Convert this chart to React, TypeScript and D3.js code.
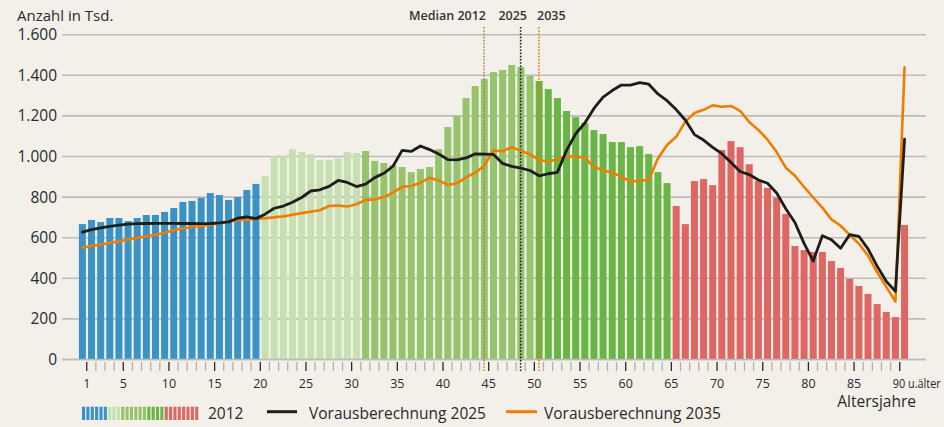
import React from "react";
import * as d3 from "d3";

// ---- data (Anzahl in Tsd.) ----
const ages: number[] = d3.range(0, 91);

const bars2012: number[] = [
  667, 687, 677, 697, 697, 682, 697, 712, 712, 727, 746, 776, 781, 796, 820, 810, 786, 800, 835, 865,
  904, 1002, 1002, 1036, 1022, 1012, 983, 983, 992, 1022, 1017,
  1027, 978, 968, 958, 948, 923, 938, 948, 1036, 1145, 1199, 1288, 1347, 1382, 1416, 1426, 1451, 1441, 1397,
  1372, 1332, 1288, 1224, 1194, 1165, 1130, 1111, 1071, 1071, 1046, 1051, 1012, 923, 869,
  756, 667, 879, 889, 859, 1032, 1076, 1046, 962, 879, 845, 796, 717, 559, 539, 530, 530, 485, 451, 397,
  362, 323, 273, 234, 209, 663,
];

const proj2025: number[] = [
  627, 640, 648, 656, 662, 667, 669, 670, 671, 671, 671, 670, 670, 669, 670, 673, 678, 696, 702, 694,
  716, 745, 756, 775, 798, 830, 836, 853, 882, 872, 852, 864, 896, 917, 952, 1030, 1025, 1052, 1034, 1012,
  985, 983, 993, 1013, 1012, 1010, 966, 951, 943, 931, 905, 915, 922, 1030, 1112, 1165, 1237, 1293, 1325, 1352,
  1352, 1364, 1356, 1308, 1275, 1231, 1180, 1108, 1081, 1045, 1014, 970, 926, 911, 884, 868, 820, 743, 675, 572,
  485, 610, 590, 548, 615, 607, 545, 460, 385, 336, 1085,
];

const proj2035: number[] = [
  551, 559, 566, 575, 582, 591, 600, 607, 615, 624, 638, 645, 653, 658, 664, 672, 680, 686, 689, 693,
  696, 700, 705, 713, 721, 728, 735, 756, 759, 754, 765, 786, 789, 800, 822, 851, 855, 871, 895, 882,
  860, 868, 897, 920, 955, 1030, 1026, 1046, 1028, 1010, 983, 975, 987, 1001, 999, 995, 948, 932, 920, 901,
  876, 881, 884, 990, 1057, 1097, 1172, 1214, 1230, 1252, 1245, 1249, 1225, 1170, 1131, 1083, 1022, 945, 905, 850,
  798, 748, 690, 659, 614, 570, 512, 430, 358, 285, 1440,
];

// age groups (first age of each colour group)
const groupStarts: number[] = [0, 20, 31, 50, 65];
const groupColors: string[] = ["#3a92c6", "#c7e0b1", "#96c46d", "#69b545", "#de6663"];

const yTicks: number[] = [0, 200, 400, 600, 800, 1000, 1200, 1400, 1600];
const xLabelTicks: number[] = [1, 5, 10, 15, 20, 25, 30, 35, 40, 45, 50, 55, 60, 65, 70, 75, 80, 85, 90];
const medianLabels: string[] = ["Median 2012", "2025", "2035"];
const medianAges: number[] = [44.5, 48.5, 50.5];
const medianColors: string[] = ["#a48b3e", "#1d1d1b", "#ef7d00"];

// legend swatch bars counts per colour group
const legendCounts: number[] = [6, 3, 6, 4, 8];

const W = 944;
const H = 427;
const BG = "#f3f0ea";
const FONT = "'Open Sans', 'Noto Sans', sans-serif";
const TXT = "#2a2a2a";

const fmt = (v: number) => (v >= 1000 ? d3.format(",")(v).replace(",", ".") : String(v));

function colorFor(age: number): string {
  let c = groupColors[0];
  groupStarts.forEach((s, i) => {
    if (age >= s) c = groupColors[i];
  });
  return c;
}

export default function App() {
  const x = d3.scaleLinear().domain([0, 91]).range([77.6, 77.6 + 9.135 * 91]);
  const y = d3.scaleLinear().domain([0, 1600]).range([359.5, 34.7]);
  const barPadL = 1.3;
  const barW = 7.0;
  const cx = (a: number) => x(a) + barPadL + barW / 2;

  const line = d3
    .line<number>()
    .x((_, i) => cx(ages[i]))
    .y((d) => y(d))
    .curve(d3.curveLinear);

  const legendBars: { color: string }[] = [];
  legendCounts.forEach((n, gi) => {
    for (let k = 0; k < n; k++) legendBars.push({ color: groupColors[gi] });
  });
  const legendX = d3.scaleLinear().domain([0, legendBars.length]).range([82, 199.5]);

  return (
    <svg
      width={W}
      height={H}
      style={{ position: "absolute", left: 0, top: 0, display: "block" }}
      fontFamily={FONT}
    >
      <rect x={0} y={0} width={W} height={H} fill={BG} />

      {/* y title */}
      <text x={17} y={21} fontSize={15} fill={TXT}>
        Anzahl in Tsd.
      </text>

      {/* gridlines + y labels */}
      {yTicks.map((t) => (
        <g key={t}>
          <line x1={62} x2={926} y1={y(t)} y2={y(t)} stroke="#bcbcbc" strokeWidth={1.6} />
          <text x={57} y={y(t)} dy="0.36em" textAnchor="end" fontSize={15.5} fill={TXT}>
            {fmt(t)}
          </text>
        </g>
      ))}

      {/* bars */}
      {ages.map((a, i) => (
        <rect
          key={a}
          x={x(a) + barPadL}
          y={y(bars2012[i])}
          width={barW}
          height={y(0) - y(bars2012[i])}
          fill={colorFor(a)}
        />
      ))}

      {/* baseline */}
      <line x1={62} x2={926} y1={y(0)} y2={y(0)} stroke="#bcbcbc" strokeWidth={1.6} />

      {/* x ticks */}
      {d3.range(1, 91).map((k) => {
        const major = k === 1 || k % 5 === 0;
        return (
          <line
            key={k}
            x1={x(k)}
            x2={x(k)}
            y1={362}
            y2={371}
            stroke={major ? "#2a2a2a" : "#b0b0b0"}
            strokeWidth={1.3}
          />
        );
      })}
      {xLabelTicks.map((k) =>
        k === 90 ? (
          <text
            key={k}
            x={x(k) - 7}
            y={388}
            fontSize={12.5}
            fill={TXT}
            textLength={48}
            lengthAdjust="spacingAndGlyphs"
          >
            90 u.älter
          </text>
        ) : (
          <text key={k} x={x(k)} y={388} textAnchor="middle" fontSize={12.5} fill={TXT}>
            {k}
          </text>
        )
      )}
      <text x={916} y={407} textAnchor="end" fontSize={15.5} fill={TXT}>
        Altersjahre
      </text>

      {/* median lines */}
      {medianAges.map((m, i) => (
        <line
          key={i}
          x1={x(m)}
          x2={x(m)}
          y1={27}
          y2={372}
          stroke={medianColors[i]}
          strokeWidth={1.6}
          strokeDasharray="1.6,1.6"
        />
      ))}
      <text x={486} y={20} textAnchor="end" fontSize={12.5} fontWeight={600} fill="#333">
        {medianLabels[0]}
      </text>
      <text x={527} y={20} textAnchor="end" fontSize={12.5} fontWeight={600} fill="#333">
        {medianLabels[1]}
      </text>
      <text x={537} y={20} textAnchor="start" fontSize={12.5} fontWeight={600} fill="#333">
        {medianLabels[2]}
      </text>

      {/* projection lines */}
      <path
        d={line(proj2035) || ""}
        fill="none"
        stroke="#ef7d00"
        strokeWidth={2.6}
        strokeLinejoin="round"
        strokeLinecap="round"
      />
      <path
        d={line(proj2025) || ""}
        fill="none"
        stroke="#1d1d1b"
        strokeWidth={2.8}
        strokeLinejoin="round"
        strokeLinecap="round"
      />

      {/* legend */}
      {legendBars.map((b, i) => (
        <rect
          key={i}
          x={legendX(i)}
          y={406.7}
          width={(legendX(1) - legendX(0)) * 0.72}
          height={13.3}
          fill={b.color}
        />
      ))}
      <text x={208} y={419} fontSize={15.5} fill={TXT}>
        2012
      </text>
      <line x1={267} x2={297} y1={411.7} y2={411.7} stroke="#1d1d1b" strokeWidth={3} />
      <text x={309} y={419} fontSize={15.5} fill={TXT}>
        Vorausberechnung 2025
      </text>
      <line x1={506} x2={537} y1={411.7} y2={411.7} stroke="#ef7d00" strokeWidth={3} />
      <text x={544} y={419} fontSize={15.5} fill={TXT}>
        Vorausberechnung 2035
      </text>
    </svg>
  );
}
